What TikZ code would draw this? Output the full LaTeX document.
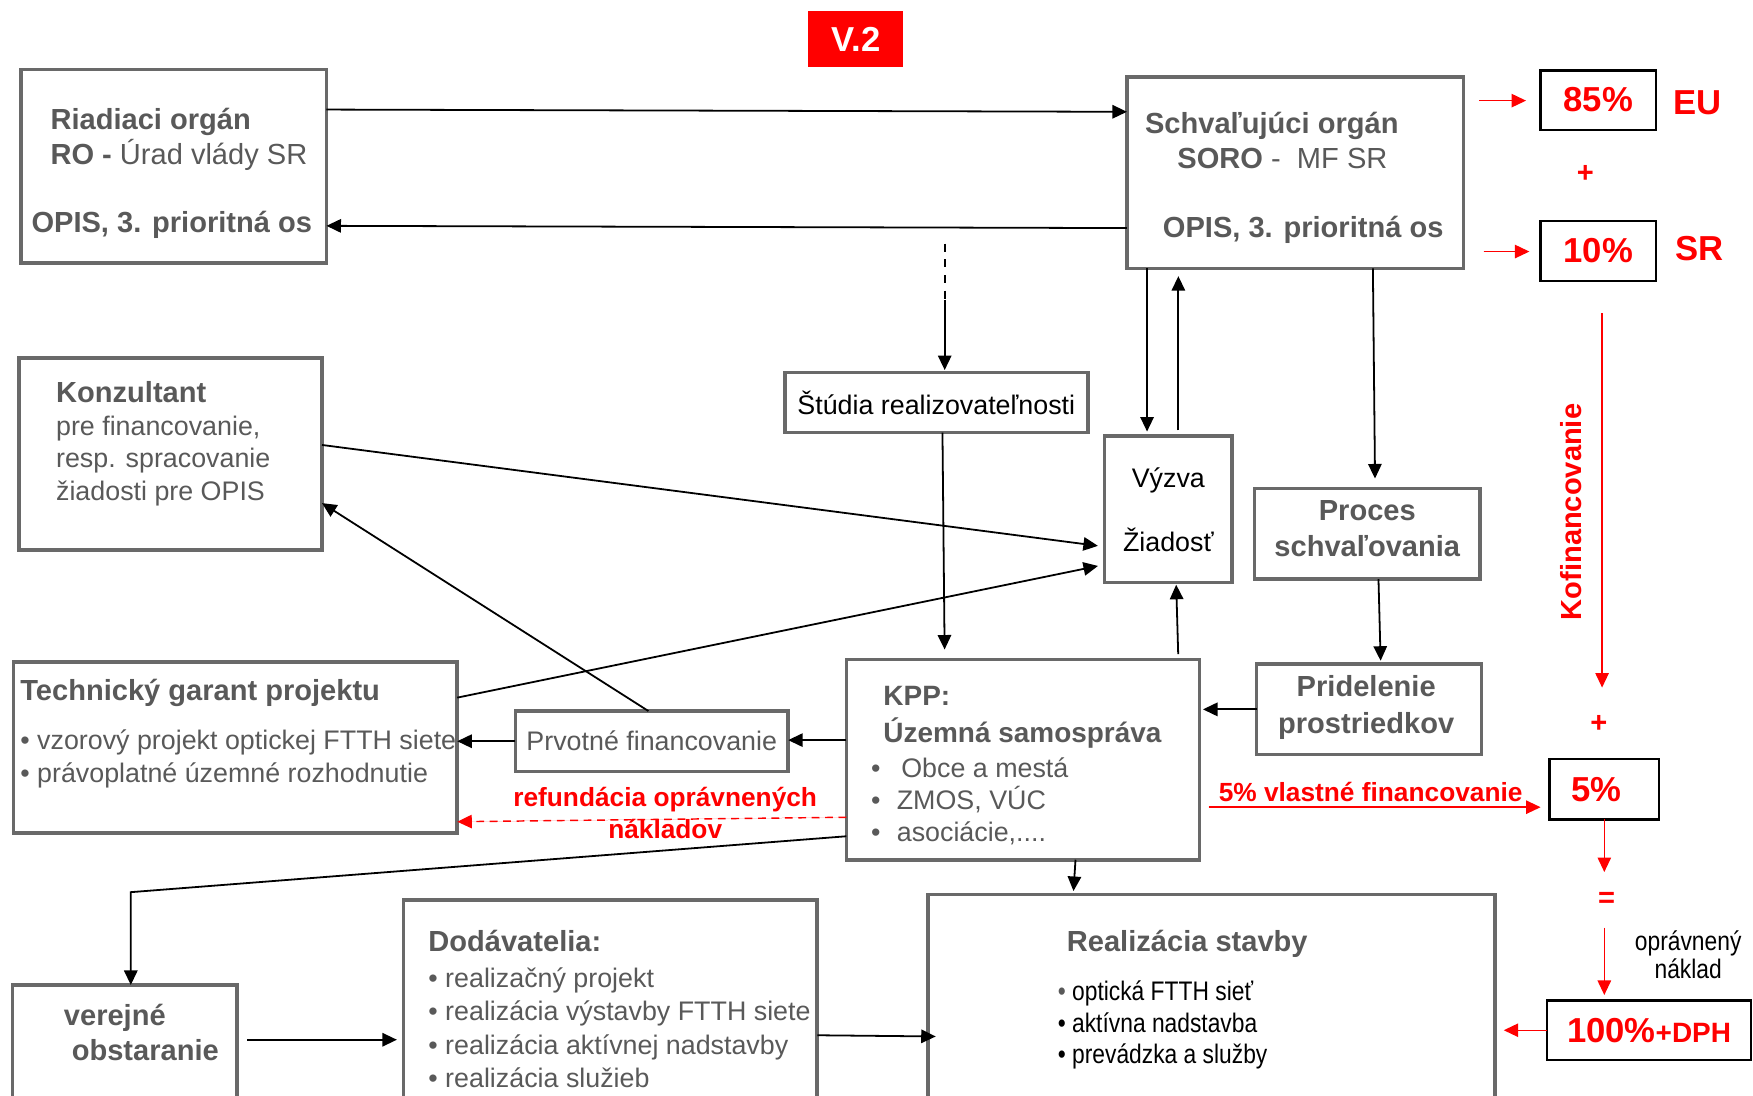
\documentclass[tikz,border=0pt]{standalone}
\usepackage{fontspec}
\setmainfont{Liberation Sans}
\newfontfamily\narrowsans{Liberation Sans}[FakeStretch=0.85]
\usetikzlibrary{arrows.meta}

\definecolor{boxgray}{RGB}{105,105,105}
\definecolor{txtgray}{RGB}{89,89,89}
\definecolor{vred}{RGB}{255,0,0}
\newcommand{\fsz}[2]{\fontsize{#1}{#2}\selectfont}

\tikzset{
  box/.style={draw=boxgray, line width=3.2pt, inner sep=0, outer sep=0},
  pbox/.style={draw=black, line width=2pt, inner sep=0, outer sep=0, text=vred, font=\bfseries\fsz{31}{31}},
  lbl/.style={inner sep=0, anchor=base west, align=left, text=txtgray},
  rlbl/.style={inner sep=0, text=vred, font=\bfseries\fsz{26}{29}},
  arr/.style={-{Triangle[length=13pt,width=12pt]}, line width=1.6pt},
  rarr/.style={arr, draw=vred, fill=vred, line width=1.3pt}
}

\begin{document}
\begin{tikzpicture}[x=1pt, y=-1pt]
\useasboundingbox (0,0) rectangle (1568,980);
\clip (0,0) rectangle (1568,980);

% boxes
\node[fill=vred, minimum width=85, minimum height=50, inner sep=0, text=white, font=\bfseries\fsz{31}{31}] (ver) at (765.5,35) {V.2};
\node[box, minimum width=273, minimum height=173] (ro) at (155.5,148.5) {};
\node[box, minimum width=301, minimum height=171] (soro) at (1158.5,154.5) {};
\node[pbox, minimum width=103, minimum height=53] (p85) at (1429.5,89.5) {85\%};
\node[pbox, minimum width=103, minimum height=53] (p10) at (1429.5,224.5) {10\%};
\node[box, minimum width=271, minimum height=54, text=black, font=\fsz{24}{29}] (studia) at (837.5,360) {Štúdia realizovateľnosti};
\node[box, minimum width=114, minimum height=131] (vyzva) at (1045,455.5) {};
\node[box, minimum width=271, minimum height=172] (konz) at (152.5,406) {};
\node[box, minimum width=202, minimum height=81] (proces) at (1223,477.5) {};
\node[box, minimum width=201, minimum height=81] (prid) at (1224.5,634.5) {};
\node[box, minimum width=316, minimum height=179] (kpp) at (915,679.5) {};
\node[box, minimum width=244, minimum height=54, text=txtgray, font=\fsz{24}{29}] (prvot) at (583,663) {Prvotné financovanie};
\node[box, minimum width=397, minimum height=153] (tech) at (210.5,668.5) {};
\node[pbox, minimum width=98, minimum height=54] (p5) at (1435,706) {5\%\kern14pt};
\node[pbox, minimum width=182, minimum height=53] (p100) at (1475,921.5) {100\%{\fsz{25}{25}+DPH}};
\node[box, minimum width=201, minimum height=119] (verej) at (111.5,940.5) {};
\node[box, minimum width=370, minimum height=195] (dodav) at (546,902.5) {};
\node[box, minimum width=507, minimum height=200] (realiz) at (1083.5,900) {};

% texts in boxes (multi-line nodes sit on their last baseline)
\node[lbl, font=\fsz{26}{31}] (ro-t) at (45,147) {\textbf{Riadiaci orgán}\\\textbf{RO -} Úrad vlády SR};
\node[lbl, font=\bfseries\fsz{26}{31}] (ro-b) at (28,208) {OPIS, 3. prioritná os};
\node[lbl, font=\bfseries\fsz{26}{31}] (soro-t) at (1024,119) {Schvaľujúci orgán};
\node[lbl, font=\fsz{26}{31}] (soro-m) at (1053,151) {\textbf{SORO} -\ \ MF SR};
\node[lbl, font=\bfseries\fsz{26}{31}] (soro-b) at (1040,212) {OPIS, 3. prioritná os};
\node[lbl, font=\fsz{24}{29}] (konz-t) at (50,447.6) {\textbf{\fsz{26}{29}Konzultant}\\[1pt]pre financovanie,\\resp. spracovanie\\žiadosti pre OPIS};
\node[lbl, font=\fsz{24}{29}] (tech-t) at (18,699.6) {\textbf{\fsz{26}{29}Technický garant projektu}\\[15pt]\textbullet\ vzorový projekt optickej FTTH siete\\\textbullet\ právoplatné územné rozhodnutie};
\node[lbl, anchor=base, align=center, text=black, font=\fsz{24}{29}] (vyzva-t) at (1045,493.6) {Výzva\\[29pt]Žiadosť};
\node[lbl, anchor=base, align=center, font=\bfseries\fsz{26}{32}] (proces-t) at (1223,498) {Proces\\schvaľovania};
\node[lbl, anchor=base, align=center, font=\bfseries\fsz{26}{33}] (prid-t) at (1222,656) {Pridelenie\\prostriedkov};
\node[lbl, font=\bfseries\fsz{25}{33}] (kpp-t) at (790,664) {KPP:\\Územná samospráva};
\node[lbl, font=\fsz{24}{28.5}] (kpp-l) at (779,752.6) {\makebox[27pt][l]{\textbullet}Obce a mestá\\\makebox[23pt][l]{\textbullet}ZMOS, VÚC\\\makebox[23pt][l]{\textbullet}asociácie,....};
\node[lbl, font=\bfseries\fsz{26}{32}] (verej-t) at (57,949) {verejné\\\hspace*{7pt}obstaranie};
\node[lbl, font=\fsz{24}{29.7}] (dodav-t) at (383,972.6) {\textbf{\fsz{26}{29.7}Dodávatelia:}\\[3pt]\textbullet\ realizačný projekt\\\textbullet\ realizácia výstavby FTTH siete\\\textbullet\ realizácia aktívnej nadstavby\\\textbullet\ realizácia služieb};
\node[lbl, anchor=base, font=\bfseries\fsz{26}{29}] (realiz-t) at (1062,851) {Realizácia stavby};
\node[lbl, text=black, font=\narrowsans\fsz{24}{28.5}] (realiz-l) at (946,951.6) {\textcolor{txtgray}{\textbullet}\ optická FTTH sieť\\\textbullet\ aktívna nadstavba\\\textbullet\ prevádzka a služby};

% red labels
\node[rlbl, font=\bfseries\fsz{31}{31}] (eu) at (1518,92) {EU};
\node[rlbl, font=\bfseries\fsz{31}{31}] (sr) at (1520,222) {SR};
\node[rlbl] (plus-a) at (1418,156) {+};
\node[rlbl] (plus-b) at (1430,648) {+};
\node[rlbl] (eq) at (1437,805) {=};
\node[rlbl, rotate=90] (kofin) at (1405,458) {Kofinancovanie};
\node[rlbl, font=\bfseries\fsz{23.5}{29}] (own) at (1226,708) {5\% vlastné financovanie};
\node[rlbl, anchor=base, align=center, font=\bfseries\fsz{23.5}{29}] (refund) at (595,750.4) {refundácia oprávnených\\nákladov};
\node[lbl, anchor=base, align=center, text=black, font=\narrowsans\fsz{24}{25}] (oprav) at (1510,875.5) {oprávnený\\náklad};

% connectors
\coordinate (dtop) at (845,218);
\coordinate (dmid) at (845,268);
\coordinate (vbend) at (117,798);
\draw[arr] (ro.east |- 0,98) -- (soro.west |- 0,100);
\draw[arr] (soro.west |- 0,204) -- (ro.east |- 0,202);
\draw[line width=1.6pt, dash pattern=on 7pt off 7pt] (dtop) -- (dmid);
\draw[arr, shorten >=2pt] (dmid) -- (studia.north -| dmid);
\draw[arr, shorten >=9pt] (studia.south -| 843,0) -- (kpp.north -| 845,0);
\draw[arr, shorten >=4pt] (soro.south -| 1026,0) -- (vyzva.north -| 1026,0);
\draw[arr, shorten <=5pt, shorten >=7pt] (vyzva.north -| 1054,0) -- (soro.south -| 1054,0);
\draw[arr, shorten >=9pt] (soro.south -| 1228,0) -- (proces.north -| 1230,0);
\draw[arr, shorten >=3pt] (proces.south -| 1233,0) -- (prid.north -| 1235,0);
\draw[arr, shorten >=3pt] (prid.west) -- (kpp.east |- prid.west);
\draw[arr, shorten <=5pt, shorten >=2pt] (kpp.north -| 1054,0) -- (vyzva.south -| 1052,0);
\draw[arr] (kpp.west |- 0,662) -- (prvot.east |- 0,662);
\draw[arr] (prvot.west) -- (tech.east |- prvot.west);
\draw[arr] (prvot.north -| 580,0) -- (konz.east |- 0,450);
\draw[arr, shorten >=6pt] (tech.east |- 0,624) -- (vyzva.west |- 0,505);
\draw[arr, shorten >=6pt] (konz.east |- 0,398) -- (vyzva.west |- 0,489);
\draw[rarr, dash pattern=on 7pt off 5pt] (kpp.west |- 0,731) -- (tech.east |- 0,735);
\draw[arr] (kpp.west |- 0,748) -- (vbend) -- (vbend |- verej.north);
\draw[arr, shorten <=9pt, shorten >=6pt] (verej.east |- 0,930) -- (dodav.west |- 0,930);
\draw[arr, shorten >=-7pt] (dodav.east |- 0,926) -- (realiz.west |- 0,927);
\draw[arr, shorten >=3pt] (kpp.south -| 962,0) -- (realiz.north -| 960,0);

% red connectors
\coordinate (eu-a) at (1323,90);
\coordinate (sr-a) at (1327,225);
\coordinate (kof-a) at (1433,280);
\coordinate (kof-b) at (1433,615);
\coordinate (eq-a) at (1435,780);
\coordinate (eq-b) at (1435,830);
\draw[rarr, shorten >=13pt] (eu-a) -- (p85.west |- eu-a);
\draw[rarr, shorten >=10pt] (sr-a) -- (p10.west |- sr-a);
\draw[rarr] (kof-a) -- (kof-b);
\draw[rarr] (p5.south -| eq-a) -- (eq-a);
\draw[rarr, shorten >=5pt] (eq-b) -- (p100.north -| eq-b);
\draw[rarr, shorten >=8pt] (p100.west) -- (realiz.east |- p100.west);
\draw[rarr, shorten <=8pt, shorten >=8pt] (kpp.east |- 0,722) -- (p5.west |- 0,722);
\end{tikzpicture}
\end{document}
